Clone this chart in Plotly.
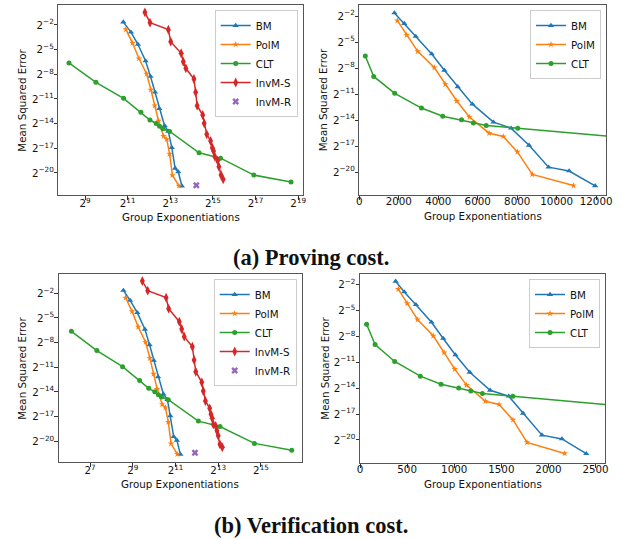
import plotly.graph_objects as go

# ---------------- data ----------------
series_names = ["BM", "PolM", "CLT", "InvM-S", "InvM-R"]
series_colors = ["#1f77b4", "#ff7f0e", "#2ca02c", "#d62728", "#9467bd"]

# Proving cost: group exponentiations
prove_bm_x = [1780, 2280, 2860, 3670, 4310, 4990, 5730, 6800, 7690, 8600, 9590, 10630, 11950]
prove_polm_x = [1930, 2400, 2960, 3800, 4360, 4940, 5580, 6580, 7300, 8010, 8770, 10850]
prove_clt_x = [304, 730, 1795, 3150, 4230, 5180, 5780, 6430, 8030, 20870, 42000, 124000, 415000]
prove_invms_x = [3591, 4241, 7696, 8307, 11666, 12502, 13590, 17680, 18690, 19620, 23495,
                 24660, 26800, 30360, 32100, 33460, 34870, 38165, 39790, 42640, 45700]
prove_invmr_x = [19080]

# Verification cost: group exponentiations
verify_bm_x = [378, 470, 593, 759, 883, 1013, 1165, 1381, 1578, 1730, 1931, 2143, 2401]
verify_polm_x = [406, 501, 611, 777, 893, 1006, 1130, 1331, 1476, 1624, 1773, 2172]
verify_clt_x = [70, 160, 368, 640, 860, 1047, 1176, 1299, 1622, 4300, 8660, 26500, 88900]
verify_invms_x = [699, 832, 1510, 1641, 2320, 2504, 2721, 3541, 3743, 3956, 4804, 5043, 5405,
                  6208, 6472, 6746, 6985, 7537, 7857, 8192, 8660, 9345]
verify_invmr_x = [3850]

# Mean squared error, given as base-2 exponents
bm_mse_log2 = [-1.65, -2.87, -4.35, -6.38, -8.26, -10.17, -12.17, -14.25, -14.94, -16.91, -19.44, -19.88, -21.59]
polm_mse_log2 = [-2.54, -4.2, -6.08, -7.95, -9.88, -11.81, -13.65, -15.52, -15.9, -17.68, -20.28, -21.56]
clt_mse_log2 = [-6.62, -8.97, -10.92, -12.62, -13.56, -13.98, -14.33, -14.62, -14.95, -17.55, -18.2, -20.26, -21.1]
prove_invms_mse_log2 = [-0.46, -1.72, -2.57, -4.03, -5.44, -6.46, -7.27, -8.57, -10.19, -11.82, -12.95,
                        -13.96, -15.3, -16.11, -16.93, -17.33, -18.02, -18.51, -19.24, -20.25, -20.77]
verify_invms_mse_log2 = [-0.50, -1.68, -2.53, -3.87, -5.45, -6.34, -7.28, -8.5, -10.11, -11.54, -12.83,
                         -13.89, -15.1, -15.99, -16.72, -17.2, -17.94, -18.14, -18.72, -19.32, -20.37, -20.73]
prove_invmr_mse_log2 = [-21.5]
verify_invmr_mse_log2 = [-21.4]

log_x_ticks_prove = [9, 11, 13, 15, 17, 19]
log_x_ticks_verify = [7, 9, 11, 13, 15]
y_ticks_log2 = [-2, -5, -8, -11, -14, -17, -20]

x_title = "Group Exponentiations"
y_title = "Mean Squared Error"
captions = ["(a) Proving cost.", "(b) Verification cost."]


def p2(vals):
    return [2.0 ** v for v in vals]


# ---------------- figure ----------------
W, H = 634, 539
FONT = "DejaVu Sans"
FS = 10.3
TXT = "#111111"

fig = go.Figure()

symbols = {"BM": ("triangle-up", 5.5), "PolM": ("star", 5), "CLT": ("circle", 5),
           "InvM-S": ("diamond-tall", 7), "InvM-R": ("x", 6)}


def add(name, x, ylog2, xa, ya, legend, mode="lines+markers"):
    c = series_colors[series_names.index(name)]
    sym, sz = symbols[name]
    fig.add_trace(go.Scatter(
        x=x, y=p2(ylog2), name=name, mode=mode,
        line=dict(color=c, width=1.5),
        marker=dict(symbol=sym, size=sz, color=c, line=dict(width=0)),
        xaxis=xa, yaxis=ya, legend=legend, cliponaxis=True))


# panel 1
add("BM", prove_bm_x, bm_mse_log2, "x", "y", "legend")
add("PolM", prove_polm_x, polm_mse_log2, "x", "y", "legend")
add("CLT", prove_clt_x, clt_mse_log2, "x", "y", "legend")
add("InvM-S", prove_invms_x, prove_invms_mse_log2, "x", "y", "legend")
add("InvM-R", prove_invmr_x, prove_invmr_mse_log2, "x", "y", "legend", mode="markers")
# panel 2
add("BM", prove_bm_x, bm_mse_log2, "x2", "y2", "legend2")
add("PolM", prove_polm_x, polm_mse_log2, "x2", "y2", "legend2")
add("CLT", prove_clt_x, clt_mse_log2, "x2", "y2", "legend2")
# panel 3
add("BM", verify_bm_x, bm_mse_log2, "x3", "y3", "legend3")
add("PolM", verify_polm_x, polm_mse_log2, "x3", "y3", "legend3")
add("CLT", verify_clt_x, clt_mse_log2, "x3", "y3", "legend3")
add("InvM-S", verify_invms_x, verify_invms_mse_log2, "x3", "y3", "legend3")
add("InvM-R", verify_invmr_x, verify_invmr_mse_log2, "x3", "y3", "legend3", mode="markers")
# panel 4
add("BM", verify_bm_x, bm_mse_log2, "x4", "y4", "legend4")
add("PolM", verify_polm_x, polm_mse_log2, "x4", "y4", "legend4")
add("CLT", verify_clt_x, clt_mse_log2, "x4", "y4", "legend4")

L2 = 0.30102999566  # log10(2)

# frame (left, right, top, bottom) in px
frames = {
    1: (58.3, 302.7, 5, 195),
    2: (359.3, 606, 5, 195),
    3: (58.7, 301.7, 274, 462.3),
    4: (360, 605, 274, 463.3),
}
xtitle_y = {1: 216.7, 2: 216.5, 3: 483.5, 4: 484}
ytitle_x = {1: 21.7, 2: 323.3, 3: 21.7, 4: 325}


def dom(n):
    l, r, t, b = frames[n]
    return [l / W, r / W], [1 - b / H, 1 - t / H]


axis_common = dict(showline=True, mirror=True, linecolor="#555555", linewidth=1,
                   showgrid=False, zeroline=False, ticks="outside", ticklen=3.5,
                   tickwidth=0.8, tickcolor="#333333", automargin=False,
                   tickfont=dict(family=FONT, size=FS, color=TXT))

ytickvals = p2(y_ticks_log2)
yticktext = ["2<sup>\u2212%d</sup>" % (-v) for v in y_ticks_log2]

layout = dict(width=W, height=H, margin=dict(l=0, r=0, t=0, b=0),
              paper_bgcolor="white", plot_bgcolor="white",
              font=dict(family=FONT, size=FS, color=TXT))

yranges = {1: [-22.68, 0.43], 2: [-22.65, -0.73], 3: [-22.56, 0.35], 4: [-22.7, -0.8]}
annotations = []
for n in (1, 2, 3, 4):
    xd, yd = dom(n)
    sx = "" if n == 1 else str(n)
    xa = dict(axis_common, domain=xd, anchor="y" + sx, ticklabelstandoff=-5)
    if n == 1:
        xa.update(type="log", range=[7.748 * L2, 19.21 * L2],
                  tickvals=p2(log_x_ticks_prove),
                  ticktext=["2<sup>%d</sup>" % v for v in log_x_ticks_prove])
    elif n == 3:
        xa.update(type="log", range=[5.535 * L2, 16.906 * L2],
                  tickvals=p2(log_x_ticks_verify),
                  ticktext=["2<sup>%d</sup>" % v for v in log_x_ticks_verify])
    elif n == 2:
        xa.update(type="linear", range=[0, 12500], tick0=0, dtick=2000, tickformat="d",
                  ticklabelstandoff=-7)
    else:
        xa.update(type="linear", range=[0, 2600], tick0=0, dtick=500, tickformat="d",
                  ticklabelstandoff=-7)
    ya = dict(axis_common, domain=yd, anchor="x" + sx, type="log",
              range=[yranges[n][0] * L2, yranges[n][1] * L2],
              tickvals=ytickvals, ticktext=yticktext, ticklabelstandoff=-2)
    layout["xaxis" + sx] = xa
    layout["yaxis" + sx] = ya

    l, r, t, b = frames[n]
    lg = dict(x=(r - 5) / W, y=1 - (t + 5) / H, xanchor="right", yanchor="top",
              bgcolor="rgba(255,255,255,0.85)", bordercolor="#cccccc", borderwidth=1,
              font=dict(family=FONT, size=FS, color=TXT), itemwidth=30)
    layout["legend" if n == 1 else "legend%d" % n] = lg

    annotations.append(dict(text=x_title, x=(l + r) / 2 / W, y=1 - xtitle_y[n] / H,
                            xref="paper", yref="paper", xanchor="center", yanchor="middle",
                            showarrow=False, font=dict(family=FONT, size=FS, color=TXT)))
    annotations.append(dict(text=y_title, x=ytitle_x[n] / W, y=1 - (t + b) / 2 / H,
                            xref="paper", yref="paper", xanchor="center", yanchor="middle",
                            textangle=-90, showarrow=False,
                            font=dict(family=FONT, size=FS, color=TXT)))

annotations.append(dict(text="<b>%s</b>" % captions[0], x=311 / W, y=1 - 257 / H,
                        xref="paper", yref="paper", xanchor="center", yanchor="middle",
                        showarrow=False, font=dict(family="Liberation Serif", size=22.5, color=TXT)))
annotations.append(dict(text="<b>%s</b>" % captions[1], x=311 / W, y=1 - 525 / H,
                        xref="paper", yref="paper", xanchor="center", yanchor="middle",
                        showarrow=False, font=dict(family="Liberation Serif", size=22.5, color=TXT)))
layout["annotations"] = annotations

fig.update_layout(**layout)

fig.write_html("out.html", config={"displayModeBar": False},
               post_script="document.body.style.margin='0';document.body.style.overflow='hidden';")
